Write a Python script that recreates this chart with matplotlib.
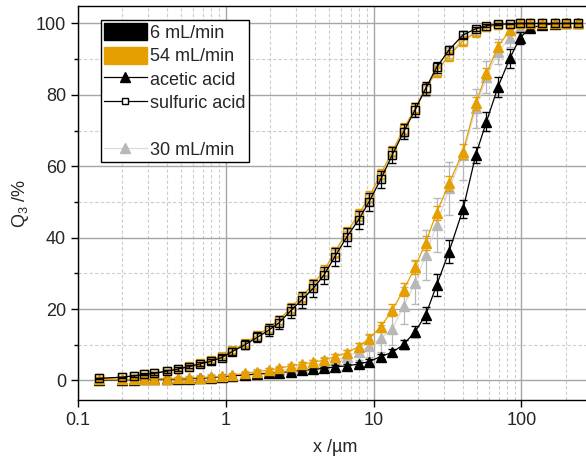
import matplotlib

matplotlib.use("Agg")
import matplotlib.pyplot as plt
from matplotlib.lines import Line2D
from matplotlib.patches import Patch
from matplotlib.ticker import FixedLocator, FuncFormatter, LogLocator, MultipleLocator

plt.rcParams["font.family"] = ["Liberation Sans", "DejaVu Sans"]
plt.rcParams["mathtext.fontset"] = "custom"
plt.rcParams["mathtext.rm"] = "Liberation Sans"

# particle size classes (µm)
x_um = [0.139, 0.198, 0.240, 0.281, 0.330, 0.399, 0.479, 0.568, 0.670, 0.796,
        0.940, 1.10, 1.35, 1.64, 1.96, 2.30, 2.75, 3.26, 3.91, 4.62,
        5.48, 6.57, 7.93, 9.34, 11.2, 13.4, 16.0, 19.1, 22.5, 26.7,
        32.4, 40.3, 49.1, 58.0, 69.5, 83.4, 97.5, 114, 138, 168,
        201, 241]

# sulfuric acid, Q3 in %
sulf_6 = [0.6, 0.9, 1.3, 1.7, 2.0, 2.6, 3.2, 3.9, 4.6, 5.4,
          6.4, 8.0, 10.0, 12.1, 14.1, 16.2, 19.5, 22.5, 25.8, 29.5,
          34.7, 40.1, 45.0, 50.1, 56.4, 63.2, 69.7, 75.8, 81.8, 87.7,
          92.6, 96.8, 98.5, 99.4, 99.8, 99.9, 100, 100, 100, 100,
          100, 100]
sulf_6_err = [0.2, 0.2, 0.3, 0.3, 0.4, 0.4, 0.5, 0.5, 0.6, 0.7,
              0.8, 1.0, 1.2, 1.4, 1.6, 1.8, 2.0, 2.2, 2.3, 2.4,
              2.5, 2.5, 2.5, 2.5, 2.4, 2.3, 2.1, 1.9, 1.7, 1.5,
              1.2, 1.0, 0.6, 0.4, 0.2, 0.1, 0, 0, 0, 0,
              0, 0]
sulf_54 = [0.6, 0.9, 1.3, 1.7, 2.1, 2.7, 3.3, 4.0, 4.8, 5.7,
           6.8, 8.4, 10.5, 12.7, 14.8, 17.0, 20.3, 23.5, 27.0, 30.8,
           36.0, 41.5, 46.5, 51.5, 57.8, 64.3, 70.5, 76.3, 81.9, 86.5,
           91.0, 95.1, 97.5, 99.0, 99.6, 99.8, 100, 100, 100, 100,
           100, 100]
sulf_54_err = [0.2, 0.2, 0.2, 0.3, 0.3, 0.3, 0.4, 0.4, 0.5, 0.5,
               0.6, 0.7, 0.8, 1.0, 1.1, 1.2, 1.3, 1.4, 1.5, 1.5,
               1.5, 1.5, 1.5, 1.5, 1.5, 1.5, 1.5, 1.5, 1.5, 1.5,
               1.5, 1.5, 1.2, 0.8, 0.4, 0.2, 0, 0, 0, 0,
               0, 0]
sulf_30 = [0.6, 0.9, 1.3, 1.7, 2.0, 2.6, 3.2, 3.9, 4.7, 5.5,
           6.6, 8.2, 10.2, 12.4, 14.4, 16.6, 19.9, 23.0, 26.4, 30.1,
           35.3, 40.8, 45.7, 50.8, 57.0, 63.7, 70.0, 75.8, 81.5, 86.8,
           91.5, 95.5, 97.8, 99.0, 99.6, 99.8, 100, 100, 100, 100,
           100, 100]
sulf_30_err = [0.3, 0.3, 0.3, 0.4, 0.4, 0.5, 0.5, 0.6, 0.6, 0.7,
               0.8, 0.9, 1.0, 1.1, 1.2, 1.3, 1.4, 1.5, 1.6, 1.6,
               1.7, 1.7, 1.7, 1.7, 1.7, 1.7, 1.7, 1.7, 1.7, 1.7,
               1.6, 1.5, 1.2, 0.8, 0.4, 0.2, 0, 0, 0, 0,
               0, 0]

# acetic acid, Q3 in %
acet_6 = [0.1, 0.2, 0.2, 0.3, 0.3, 0.4, 0.4, 0.5, 0.6, 0.8,
          1.1, 1.3, 1.5, 1.8, 2.0, 2.2, 2.5, 2.8, 3.1, 3.4,
          3.8, 4.1, 4.6, 5.3, 6.7, 7.9, 10.1, 13.7, 18.3, 26.7,
          36.1, 48.0, 63.2, 72.5, 82.3, 90.2, 95.9, 98.7, 99.5, 99.9,
          100, 100]
acet_6_err = [0.2, 0.2, 0.2, 0.2, 0.2, 0.2, 0.2, 0.3, 0.3, 0.3,
              0.3, 0.3, 0.3, 0.3, 0.4, 0.4, 0.4, 0.4, 0.5, 0.5,
              0.5, 0.6, 0.6, 0.7, 0.8, 1.0, 1.2, 1.6, 2.2, 3.0,
              3.3, 2.6, 2.3, 2.7, 2.8, 2.6, 1.6, 0.8, 0.3, 0.1,
              0, 0]
acet_54 = [0.3, 0.3, 0.3, 0.4, 0.4, 0.5, 0.6, 0.7, 0.8, 1.0,
           1.2, 1.5, 2.0, 2.5, 2.9, 3.4, 4.1, 4.5, 5.1, 5.7,
           6.7, 7.7, 9.5, 11.7, 15.1, 19.7, 25.4, 31.7, 38.6, 47.0,
           55.2, 64.1, 77.6, 86.0, 93.5, 98.2, 100, 100, 100, 100,
           100, 100]
acet_54_err = [0.4, 0.4, 0.4, 0.4, 0.4, 0.4, 0.4, 0.4, 0.4, 0.4,
               0.4, 0.4, 0.5, 0.5, 0.5, 0.5, 0.6, 0.6, 0.7, 0.7,
               0.8, 0.9, 1.0, 1.2, 1.4, 1.6, 1.8, 2.0, 2.0, 2.0,
               2.0, 2.0, 1.8, 1.5, 1.2, 0.8, 0.3, 0, 0, 0,
               0, 0]
acet_30 = [0.2, 0.2, 0.3, 0.3, 0.4, 0.4, 0.5, 0.6, 0.7, 0.9,
           1.1, 1.3, 1.7, 2.1, 2.4, 2.8, 3.3, 3.7, 4.3, 4.9,
           5.7, 6.6, 8.1, 9.6, 11.8, 14.5, 20.9, 27.4, 35.2, 43.6,
           53.8, 63.2, 76.2, 85.1, 92.1, 95.9, 98.7, 99.2, 99.8, 100,
           100, 100]
acet_30_err = [0.5, 0.5, 0.5, 0.5, 0.6, 0.6, 0.6, 0.7, 0.7, 0.8,
               0.8, 0.9, 1.0, 1.0, 1.1, 1.2, 1.3, 1.4, 1.5, 1.6,
               1.8, 2.0, 2.4, 3.0, 3.8, 4.5, 5.2, 6.0, 7.0, 7.5,
               7.5, 7.0, 5.5, 4.5, 3.5, 2.5, 1.5, 0.8, 0.3, 0,
               0, 0]

legend_labels = ["6 mL/min", "54 mL/min", "acetic acid", "sulfuric acid", " ", "30 mL/min"]

ORANGE = "#e69f00"
GRAY = "#b8b8b8"
GRAY_LINE = "#dadada"
TEXT = "#262626"
FS = 13

fig = plt.figure(figsize=(5.86, 4.59), dpi=100)
ax = fig.add_axes([0.1326, 0.1275, 0.8777, 0.8595])


def draw(y, err, color, line_color, marker, ms, hollow, z):
    ax.errorbar(
        x_um, y, yerr=err,
        color=line_color, ecolor=color, lw=0.9, elinewidth=0.9,
        capsize=3, capthick=0.9,
        marker=marker, ms=ms, mec=color,
        mfc="none" if hollow else color, mew=1.0,
        zorder=z,
    )


draw(sulf_30, sulf_30_err, GRAY, GRAY_LINE, "s", 5.5, True, 2.0)
draw(acet_30, acet_30_err, GRAY, GRAY_LINE, "^", 6.5, False, 2.1)
draw(acet_6, acet_6_err, "black", "black", "^", 6.5, False, 2.2)
draw(acet_54, acet_54_err, ORANGE, ORANGE, "^", 6.5, False, 2.3)
draw(sulf_54, sulf_54_err, ORANGE, ORANGE, "s", 5.5, True, 2.4)
draw(sulf_6, sulf_6_err, "black", "black", "s", 5.5, True, 2.5)

ax.set_xscale("log")
ax.set_xlim(0.1, 300)
ax.set_ylim(-5.6, 104.9)

ax.xaxis.set_major_locator(FixedLocator([0.1, 1, 10, 100]))
ax.xaxis.set_major_formatter(FuncFormatter(lambda v, p: f"{v:g}"))
ax.xaxis.set_minor_locator(LogLocator(base=10, subs=range(2, 10), numticks=20))
ax.xaxis.set_minor_formatter(FuncFormatter(lambda v, p: ""))
ax.yaxis.set_major_locator(MultipleLocator(20))
ax.yaxis.set_minor_locator(MultipleLocator(10))

ax.grid(which="major", color="#a6a6a6", lw=1.0, ls="-", zorder=0)
ax.grid(which="minor", color="#cccccc", lw=0.8, ls=(0, (3, 2)), zorder=0)
ax.set_axisbelow(True)

ax.tick_params(which="major", direction="out", length=5, width=1,
               labelsize=FS, labelcolor=TEXT, color="black")
ax.tick_params(axis="x", which="minor", length=0)
ax.tick_params(axis="y", which="minor", direction="out", length=3, width=1)
for s in ax.spines.values():
    s.set_linewidth(1.0)
    s.set_color("black")

ax.set_xlabel("x /µm", fontsize=FS, color=TEXT, labelpad=7)
ax.set_ylabel(r"Q$_{\mathregular{3}}$ /%", fontsize=FS, color=TEXT, labelpad=3)

handles = [
    Patch(facecolor="black", edgecolor="black"),
    Patch(facecolor=ORANGE, edgecolor=ORANGE),
    Line2D([], [], color="black", lw=0.9, marker="^", ms=6.5, mfc="black", mec="black"),
    Line2D([], [], color="black", lw=0.9, marker="s", ms=5, mfc="white", mec="black"),
    Line2D([], [], ls="none"),
    Line2D([], [], color=GRAY_LINE, lw=0.9, marker="^", ms=6.5, mfc=GRAY, mec=GRAY),
]
leg = ax.legend(
    handles, legend_labels,
    loc="upper left", bbox_to_anchor=(0.0453, 0.9645), borderaxespad=0,
    fontsize=FS, handlelength=2.35, handleheight=1.1, handletextpad=0.22,
    labelspacing=0.26, borderpad=0.17, fancybox=False, framealpha=1,
    edgecolor="black",
)
leg.get_frame().set_linewidth(1.0)
for t in leg.get_texts():
    t.set_color(TEXT)

fig.savefig("out.png", dpi=100)
